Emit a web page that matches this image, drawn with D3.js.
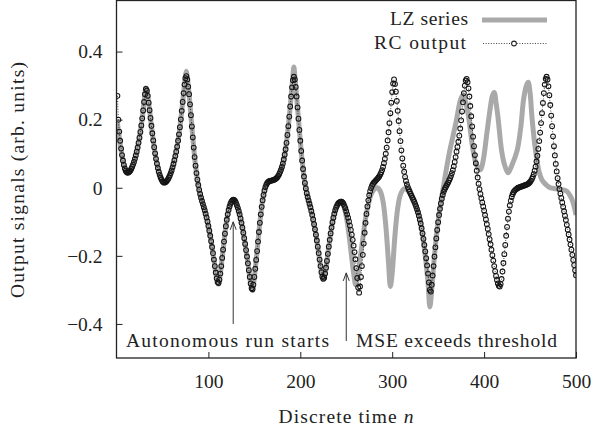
<!DOCTYPE html>
<html>
<head>
<meta charset="utf-8">
<script src="https://cdn.jsdelivr.net/npm/d3@7"></script>
<style>
  body { margin: 0; background: #fff; }
  text { font-family: "Liberation Serif", serif; fill: #222; }
</style>
</head>
<body>
<svg width="592" height="432"></svg>
<script>
// RC output, one value per discrete step n = 1..500
var rcValues = [
  // n = 1
  0.270, 0.200, 0.165, 0.138, 0.115, 0.096, 0.080, 0.067, 0.057, 0.050, 0.046, 0.044,
  // n = 13
  0.045, 0.047, 0.050, 0.055, 0.061, 0.068, 0.076, 0.085, 0.095, 0.106, 0.118, 0.132,
  0.147, 0.164, 0.183, 0.204, 0.227, 0.252, 0.275, 0.290, 0.285,
  // n = 34
  0.270, 0.250, 0.228, 0.205, 0.182, 0.160, 0.139, 0.119, 0.101, 0.085, 0.071, 0.058,
  0.047, 0.038, 0.030, 0.024, 0.019, 0.016, 0.015, 0.016,
  // n = 54
  0.018, 0.021, 0.025, 0.030, 0.036, 0.043, 0.051, 0.060, 0.070, 0.081, 0.093, 0.106,
  0.121, 0.138, 0.157, 0.178, 0.201, 0.226, 0.252, 0.278, 0.303, 0.322, 0.328, 0.318, 0.297,
  // n = 79
  0.275, 0.245, 0.213, 0.180, 0.148, 0.118, 0.090, 0.065, 0.043, 0.024, 0.008, -0.006,
  -0.018, -0.029, -0.039, -0.048, -0.057, -0.066, -0.076, -0.087, -0.099, -0.112,
  // n = 101
  -0.126, -0.141, -0.157, -0.174, -0.192, -0.211, -0.230, -0.249, -0.266, -0.277, -0.280, -0.270,
  // n = 113
  -0.252, -0.230, -0.206, -0.182, -0.158, -0.135, -0.113, -0.094, -0.078, -0.065, -0.055, -0.047,
  -0.041, -0.037, -0.035, -0.036, -0.039, -0.044, -0.051,
  // n = 132
  -0.059, -0.068, -0.078, -0.090, -0.103, -0.117, -0.132, -0.148, -0.165, -0.183, -0.202, -0.222,
  -0.242, -0.262, -0.281, -0.295, -0.298, -0.285,
  // n = 150
  -0.262, -0.238, -0.212, -0.186, -0.158, -0.130, -0.103, -0.078, -0.056, -0.037, -0.021, -0.008, 0.002,
  // n = 163
  0.009, 0.014, 0.017, 0.019, 0.020, 0.021, 0.021, 0.022, 0.023, 0.024, 0.026, 0.028,
  0.031, 0.035, 0.040, 0.046, 0.053, 0.061,
  // n = 181
  0.071, 0.083, 0.097, 0.113, 0.132, 0.155, 0.181, 0.209, 0.239, 0.268, 0.295, 0.316, 0.326, 0.318,
  // n = 195
  0.296, 0.268, 0.236, 0.203, 0.170, 0.138, 0.108, 0.080, 0.055, 0.033, 0.014, -0.002, -0.016,
  // n = 208
  -0.027, -0.037, -0.047, -0.057, -0.068, -0.080, -0.093, -0.107, -0.122, -0.138, -0.155, -0.173,
  -0.192, -0.211, -0.230, -0.248, -0.261, -0.267, -0.264,
  // n = 227
  -0.252, -0.235, -0.215, -0.194, -0.173, -0.153, -0.134, -0.117, -0.101, -0.088, -0.076, -0.066,
  -0.058, -0.052, -0.047, -0.044, -0.042, -0.041, -0.041, -0.043, -0.047, -0.053, -0.060, -0.069,
  // n = 251
  -0.078, -0.088, -0.099, -0.111, -0.124, -0.138, -0.153, -0.170, -0.189, -0.210, -0.236, -0.265,
  -0.293, -0.308, -0.290,
  // n = 266
  -0.262, -0.230, -0.197, -0.164, -0.132, -0.103, -0.077, -0.055, -0.037, -0.022, -0.010, -0.001,
  0.006, 0.011, 0.015, 0.018, 0.021, 0.024, 0.027,
  // n = 285
  0.030, 0.034, 0.039, 0.045, 0.052, 0.061, 0.072, 0.085, 0.100, 0.118, 0.139, 0.163,
  0.190, 0.219, 0.250, 0.281, 0.306, 0.318,
  // n = 303
  0.305, 0.282, 0.255, 0.226, 0.196, 0.166, 0.137, 0.110, 0.086, 0.065, 0.047, 0.032,
  0.020, 0.010, 0.002, -0.005, -0.011, -0.017, -0.023, -0.029, -0.035, -0.041, -0.048, -0.055,
  -0.063, -0.072, -0.082, -0.093, -0.105, -0.119, -0.134, -0.150, -0.168, -0.187, -0.207, -0.228,
  -0.252, -0.278, -0.300, -0.305, -0.285,
  // n = 344
  -0.258, -0.230, -0.202, -0.175, -0.149, -0.124, -0.101, -0.080, -0.062, -0.046, -0.032, -0.021,
  -0.012, -0.005, 0.001, 0.006, 0.011, 0.016, 0.022, 0.028, 0.035, 0.043, 0.052, 0.063,
  0.076, 0.090, 0.106, 0.120,
  // n = 372
  0.135, 0.153, 0.174, 0.198, 0.224, 0.251, 0.278, 0.300, 0.315, 0.320, 0.310,
  // n = 383
  0.292, 0.268, 0.240, 0.210, 0.180, 0.150, 0.122, 0.096, 0.072, 0.050, 0.030, 0.012,
  -0.004, -0.018, -0.031, -0.043, -0.055, -0.067, -0.080, -0.093, -0.107, -0.121, -0.136, -0.151,
  -0.166, -0.182, -0.198, -0.214, -0.230, -0.245, -0.259, -0.271, -0.281, -0.288, -0.290, -0.283,
  // n = 419
  -0.268, -0.246, -0.221, -0.195, -0.168, -0.141, -0.115, -0.091, -0.070, -0.052, -0.038, -0.027,
  -0.019, -0.013, -0.009, -0.006, -0.004, -0.002, 0.000, 0.001, 0.002, 0.003, 0.004, 0.005,
  0.006, 0.007, 0.008, 0.009, 0.010, 0.012, 0.014, 0.017, 0.021, 0.026, 0.032, 0.040,
  0.050, 0.062, 0.077, 0.094, 0.114, 0.137, 0.162, 0.190, 0.219, 0.249, 0.278, 0.303,
  0.320, 0.326, 0.318,
  // n = 470
  0.298, 0.272, 0.243, 0.212, 0.181, 0.151, 0.122, 0.095, 0.070, 0.048, 0.028, 0.011,
  -0.004, -0.017, -0.030, -0.043, -0.056, -0.069, -0.082, -0.095, -0.109, -0.123, -0.137, -0.152,
  -0.167, -0.182, -0.197, -0.212, -0.227, -0.242, -0.257
];

// LZ series, read at points along the curve: [n, value]
var lzPoints = [
  [1, 0.19], [3, 0.15], [5, 0.113], [8, 0.07], [12, 0.044], [16, 0.055], [20, 0.085], [24, 0.132],
  [28, 0.204], [30, 0.252], [32, 0.293], [33, 0.29], [34, 0.272], [37, 0.205], [40, 0.139],
  [44, 0.071], [48, 0.03], [52, 0.015], [56, 0.025], [60, 0.051], [64, 0.093], [68, 0.157],
  [71, 0.226], [73, 0.278], [75, 0.33], [76, 0.342], [77, 0.325], [79, 0.275], [82, 0.18],
  [86, 0.065], [90, -0.006], [94, -0.048], [98, -0.087], [102, -0.141], [106, -0.211],
  [109, -0.266], [111, -0.283], [113, -0.252], [116, -0.182], [120, -0.094], [124, -0.047],
  [127, -0.035], [131, -0.051], [135, -0.09], [139, -0.148], [143, -0.222], [146, -0.281],
  [148, -0.302], [150, -0.262], [153, -0.186], [156, -0.103], [159, -0.037], [162, 0.002],
  [166, 0.019], [171, 0.023], [175, 0.031], [179, 0.053], [183, 0.097], [187, 0.181],
  [190, 0.268], [192, 0.33], [193, 0.355], [194, 0.33], [196, 0.268], [199, 0.17], [202, 0.08],
  [205, 0.014], [209, -0.037], [213, -0.08], [217, -0.138], [221, -0.211], [224, -0.261],
  [225, -0.27], [227, -0.252], [230, -0.194], [234, -0.117], [238, -0.066], [242, -0.044],
  [245, -0.04], [248, -0.06], [251, -0.1], [254, -0.16], [257, -0.23], [259, -0.27],
  [260, -0.285], [262, -0.27], [265, -0.21], [268, -0.15], [271, -0.09], [274, -0.05],
  [277, -0.02], [281, -0.003], [284, 0.0], [287, -0.01], [290, -0.04], [293, -0.11],
  [296, -0.22], [298, -0.29], [300, -0.25], [303, -0.14], [306, -0.06], [309, -0.02],
  [313, -0.003], [316, -0.005], [320, -0.02], [324, -0.04], [328, -0.07], [332, -0.12],
  [336, -0.2], [339, -0.28], [341, -0.35], [343, -0.3], [346, -0.2], [349, -0.12], [352, -0.06],
  [355, -0.01], [358, 0.04], [362, 0.1], [366, 0.15], [370, 0.2], [374, 0.255], [377, 0.273],
  [379, 0.26], [383, 0.21], [388, 0.11], [392, 0.065], [396, 0.053], [399, 0.08], [403, 0.16],
  [407, 0.24], [409, 0.27], [411, 0.28], [413, 0.25], [415, 0.21], [419, 0.11], [422, 0.07],
  [426, 0.044], [430, 0.065], [436, 0.11], [440, 0.18], [443, 0.26], [446, 0.3], [448, 0.31],
  [450, 0.28], [452, 0.21], [455, 0.13], [457, 0.09], [460, 0.045], [463, 0.023], [467, 0.01],
  [472, 0.0], [478, -0.003], [485, -0.006], [490, -0.01], [494, -0.025], [497, -0.045], [500, -0.08]
];

var xTicks = [100, 200, 300, 400, 500];
var yTicks = [-0.4, -0.2, 0, 0.2, 0.4];

// annotation arrows: n, tail value, head value
var arrows = [
  { n: 127, from: -0.40, to: -0.10, label: "Autonomous run starts" },
  { n: 250, from: -0.45, to: -0.25, label: "MSE exceeds threshold" }
];

var svg = d3.select("svg");

var x = d3.scaleLinear().domain([0, 500]).range([116.5, 576]);
var y = d3.scaleLinear().domain([-0.5, 0.55]).range([358, 0.5]);

var minus = function(d) { return d3.format("")(d).replace("-", "\u2212"); };

svg.append("clipPath").attr("id", "plot-clip")
  .append("rect")
  .attr("x", x(0)).attr("y", y(0.55))
  .attr("width", x(500) - x(0)).attr("height", y(-0.5) - y(0.55));

var plot = svg.append("g").attr("clip-path", "url(#plot-clip)");

// LZ series: thick grey line
var lzLine = d3.line()
  .x(function(d) { return x(d[0]); })
  .y(function(d) { return y(d[1]); })
  .curve(d3.curveCatmullRom);

plot.append("path")
  .datum(lzPoints)
  .attr("fill", "none")
  .attr("stroke", "#a9a9a9")
  .attr("stroke-width", 5)
  .attr("stroke-linejoin", "round")
  .attr("d", lzLine);

// RC output: dotted line plus open circles
var rcData = rcValues.map(function(v, i) { return [i + 1, v]; });

plot.append("path")
  .datum(rcData)
  .attr("fill", "none")
  .attr("stroke", "#111")
  .attr("stroke-width", 0.8)
  .attr("stroke-dasharray", "1,1.6")
  .attr("d", d3.line()
    .x(function(d) { return x(d[0]); })
    .y(function(d) { return y(d[1]); }));

plot.append("g")
  .selectAll("circle")
  .data(rcData)
  .enter().append("circle")
  .attr("cx", function(d) { return x(d[0]); })
  .attr("cy", function(d) { return y(d[1]); })
  .attr("r", 2.4)
  .attr("fill", "none")
  .attr("stroke", "#151515")
  .attr("stroke-width", 1.05);

// axes, ticks pointing inwards
var yAxis = svg.append("g")
  .attr("transform", "translate(" + x(0) + ",0)")
  .call(d3.axisLeft(y).tickValues(yTicks).tickSize(-6).tickPadding(14).tickFormat(minus));

var xAxis = svg.append("g")
  .attr("transform", "translate(0," + y(-0.5) + ")")
  .call(d3.axisBottom(x).tickValues(xTicks).tickSize(-6).tickPadding(16));

[yAxis, xAxis].forEach(function(a) {
  a.select(".domain").remove();
  a.selectAll("line").attr("stroke", "#222").attr("stroke-width", 1);
  a.selectAll("text")
    .attr("font-family", "Liberation Serif, serif")
    .attr("font-size", 19.5)
    .attr("fill", "#222");
});

// frame
svg.append("rect")
  .attr("x", x(0)).attr("y", y(0.55))
  .attr("width", x(500) - x(0)).attr("height", y(-0.5) - y(0.55))
  .attr("fill", "none")
  .attr("stroke", "#222")
  .attr("stroke-width", 1.3);

// axis titles
svg.append("text")
  .attr("x", 346).attr("y", 423)
  .attr("text-anchor", "middle")
  .attr("font-size", 19.5)
  .attr("textLength", 135)
  .text("Discrete time ")
  .append("tspan")
  .attr("font-style", "italic")
  .text("n");

svg.append("text")
  .attr("transform", "translate(24,180) rotate(-90)")
  .attr("text-anchor", "middle")
  .attr("font-size", 19.5)
  .attr("textLength", 236)
  .text("Output signals (arb. units)");

// annotations
var ann = svg.append("g");
ann.selectAll("line.shaft")
  .data(arrows)
  .enter().append("line")
  .attr("class", "shaft")
  .attr("x1", function(d) { return x(d.n); })
  .attr("x2", function(d) { return x(d.n); })
  .attr("y1", function(d) { return y(d.from); })
  .attr("y2", function(d) { return y(d.to); })
  .attr("stroke", "#333")
  .attr("stroke-width", 1);

ann.selectAll("path.head")
  .data(arrows)
  .enter().append("path")
  .attr("class", "head")
  .attr("d", function(d) {
    var hx = x(d.n), hy = y(d.to);
    return "M" + (hx - 3) + "," + (hy + 8) + "L" + hx + "," + hy + "L" + (hx + 3) + "," + (hy + 8);
  })
  .attr("fill", "none")
  .attr("stroke", "#333")
  .attr("stroke-width", 1);

var labelPos = [[126, 203], [356, 201]];
ann.selectAll("text")
  .data(arrows)
  .enter().append("text")
  .attr("x", function(d, i) { return labelPos[i][0]; })
  .attr("y", 347)
  .attr("font-size", 19.5)
  .attr("textLength", function(d, i) { return labelPos[i][1]; })
  .text(function(d) { return d.label; });

// legend
var legend = svg.append("g");
legend.append("text")
  .attr("x", 468).attr("y", 24.5)
  .attr("text-anchor", "end")
  .attr("font-size", 19.5)
  .attr("textLength", 78)
  .text("LZ series");
legend.append("line")
  .attr("x1", 482).attr("x2", 547).attr("y1", 20).attr("y2", 20)
  .attr("stroke", "#a9a9a9").attr("stroke-width", 5);

legend.append("text")
  .attr("x", 466).attr("y", 48.5)
  .attr("text-anchor", "end")
  .attr("font-size", 19.5)
  .attr("textLength", 92)
  .text("RC output");
legend.append("line")
  .attr("x1", 483).attr("x2", 547).attr("y1", 43.5).attr("y2", 43.5)
  .attr("stroke", "#111").attr("stroke-width", 0.8).attr("stroke-dasharray", "1,1.6");
legend.append("circle")
  .attr("cx", 514).attr("cy", 43.5).attr("r", 2.4)
  .attr("fill", "#fff").attr("stroke", "#222").attr("stroke-width", 1.05);
</script>
</body>
</html>
